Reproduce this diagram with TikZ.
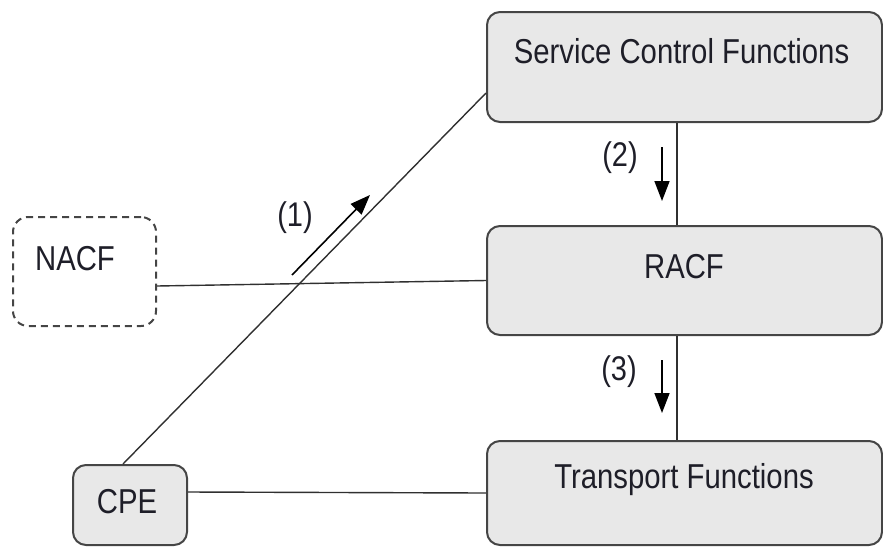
\documentclass[tikz,border=0pt]{standalone}
\usepackage{fontspec}
\setmainfont{Liberation Sans}
\usetikzlibrary{arrows.meta}
\definecolor{boxfill}{HTML}{E8E8E8}
\definecolor{boxline}{HTML}{454545}
\definecolor{wire}{HTML}{303030}
\definecolor{ink}{HTML}{1E1E28}
\newcommand{\tall}[1]{\scalebox{1}[1.18]{#1}}
\tikzset{
  fbox/.style={draw=boxline, line width=2pt, fill=boxfill, rounded corners=13pt, inner sep=0pt},
  dbox/.style={draw=boxline, line width=2pt, dash pattern=on 7pt off 5pt, rounded corners=15pt, inner sep=0pt},
  txt/.style={text=ink, font=\fontsize{29.3}{34}\selectfont, inner sep=0pt, anchor=base},
  tag/.style={text=ink, font=\fontsize{29}{34}\selectfont, inner sep=0pt},
  wire/.style={draw=wire, line width=1.4pt},
  flow/.style={draw=black, line width=1.6pt, -{Triangle[length=20pt,width=15pt]}}
}
\begin{document}
\begin{tikzpicture}[x=1pt,y=1pt]
\useasboundingbox (0,0) rectangle (883,-547);

% functional blocks
\node[fbox, minimum width=395pt, minimum height=110pt] (scf) at (684.5,-67) {};
\node[fbox, minimum width=395pt, minimum height=109pt] (racf) at (684.5,-280.5) {};
\node[fbox, minimum width=395pt, minimum height=104pt] (tf) at (684.5,-493) {};
\node[dbox, minimum width=143pt, minimum height=109pt] (nacf) at (84.5,-271.5) {};
\node[fbox, minimum width=114pt, minimum height=80pt] (cpe) at (130,-505) {};

% block titles
\node[txt] (scft) at (681.5,-63) {\tall{Service Control Functions}};
\node[txt] (racft) at (684,-278) {\tall{RACF}};
\node[txt] (tft) at (684,-488) {\tall{Transport Functions}};
\node[txt] (nacft) at (75,-270) {\tall{NACF}};
\node[txt] (cpet) at (127,-513) {\tall{CPE}};

% links between blocks
\draw[wire] ([xshift=-7pt]cpe.north) -- ([yshift=-26pt]scf.west);
\draw[wire] ([yshift=-14.5pt]nacf.east) -- (racf.west);
\draw[wire] ([yshift=13pt]cpe.east) -- (tf.west);
\draw[wire] ([xshift=-7.5pt]scf.south) -- ([xshift=-7.5pt]racf.north);
\draw[wire] ([xshift=-7.5pt]racf.south) -- ([xshift=-7.5pt]tf.north);

% message flow arrows
\coordinate (a1s) at (292,-275);
\coordinate (a1e) at (370,-195);
\coordinate (a2s) at (662,-147);
\coordinate (a2e) at (662,-201);
\coordinate (a3s) at (662,-360);
\coordinate (a3e) at (662,-413);
\draw[flow] (a1s) -- (a1e);
\draw[flow] (a2s) -- (a2e);
\draw[flow] (a3s) -- (a3e);

\node[tag] (t1) at (295,-218) {\tall{(1)}};
\node[tag] (t2) at (620,-158) {\tall{(2)}};
\node[tag] (t3) at (619,-372) {\tall{(3)}};
\end{tikzpicture}
\end{document}
